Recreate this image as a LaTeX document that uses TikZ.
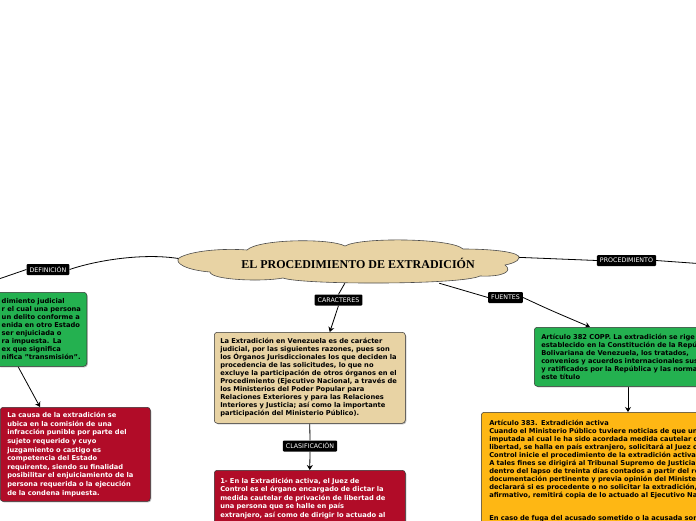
\documentclass[tikz,border=0pt]{standalone}
\usepackage{fontspec}
\setmainfont{DejaVu Sans}
\newfontfamily\titlefont{Liberation Serif}
\usepackage{xcolor}
\usetikzlibrary{arrows.meta, positioning, shadows, backgrounds}

\definecolor{tanfill}{RGB}{232,211,164}
\definecolor{mapgreen}{RGB}{36,177,80}
\definecolor{mapred}{RGB}{177,12,40}
\definecolor{maporange}{RGB}{254,183,20}

\begin{document}
\begin{tikzpicture}[
    x=1pt, y=-1pt,
    box/.style={rectangle, draw=black!80, line width=0.5pt, rounded corners=3pt, align=left, inner xsep=6pt, inner ysep=5pt, font=\fontsize{6.7}{8}\selectfont\bfseries, drop shadow={shadow xshift=1pt, shadow yshift=-1pt, fill=black!45, opacity=0.6}},
    tanbox/.style={box, fill=tanfill},
    greenbox/.style={box, fill=mapgreen},
    redbox/.style={box, fill=mapred, text=white, font=\fontsize{6.7}{8.6}\selectfont\bfseries},
    orangebox/.style={box, fill=maporange},
    tag/.style={rectangle, fill=black, text=white, rounded corners=1pt, inner xsep=3pt, inner ysep=0pt, minimum height=11pt, font=\fontsize{6.3}{7}\selectfont},
    link/.style={line width=0.8pt},
    arrow/.style={link, -{Stealth[length=5pt, width=6pt]}},
]
    \useasboundingbox (0,0) rectangle (696,520);
    \clip (0,0) rectangle (696,520);

    % central topic
    \draw[fill=tanfill, draw=black!70, line width=0.6pt] (179,258)
        .. controls (190,251) and (222,248) .. (247,250)
        .. controls (258,239) and (330,238) .. (345,246)
        .. controls (360,237) and (452,238) .. (463,249)
        .. controls (492,249) and (521,252) .. (519,258)
        .. controls (518,262) and (510,264) .. (505,265)
        .. controls (513,271) and (504,277) .. (480,276)
        .. controls (462,285) and (302,285) .. (283,278)
        .. controls (262,282) and (211,280) .. (210,272)
        .. controls (186,270) and (174,263) .. (179,258) -- cycle;
    \node[minimum width=322pt, minimum height=40pt, inner sep=0pt, font=\titlefont\bfseries\fontsize{12}{13}\selectfont] (root) at (358,263) {EL PROCEDIMIENTO DE EXTRADICIÓN};

    % boxes
    \node[greenbox, text width=80pt, inner xsep=5pt, minimum height=74pt, anchor=north east] (defbox) at (87,292) {dimiento judicial\\r el cual una persona\\un delito conforme a\\enida en otro Estado\\ ser enjuiciada o\\ra impuesta. La\\ex que significa\\nifica "transmisión".};
    \node[redbox, text width=136pt, inner xsep=7pt, minimum height=94pt, anchor=north west] (causabox) at (0,407) {La causa de la extradición se\\ubica en la comisión de una\\infracción punible por parte del\\sujeto requerido y cuyo\\juzgamiento o castigo es\\competencia del Estado\\requirente, siendo su finalidad\\posibilitar el enjuiciamiento de la\\persona requerida o la ejecución\\de la condena impuesta.};
    \node[tanbox, text width=179pt, minimum height=91pt, anchor=north west] (caracbox) at (214,332) {La Extradición en Venezuela es de carácter\\judicial, por las siguientes razones, pues son\\los Órganos Jurisdiccionales los que deciden la\\procedencia de las solicitudes, lo que no\\excluye la participación de otros órganos en el\\Procedimiento (Ejecutivo Nacional, a través de\\los Ministerios del Poder Popular para\\Relaciones Exteriores y para las Relaciones\\Interiores y Justicia; así como la importante\\participación del Ministerio Público).};
    \node[redbox, text width=179pt, minimum height=56pt, anchor=north west] (clasbox) at (214,470) {1- En la Extradición activa, el Juez de\\Control es el órgano encargado de dictar la\\medida cautelar de privación de libertad de\\una persona que se halle en país\\extranjero, así como de dirigir lo actuado al};
    \node[greenbox, text width=220pt, inner xsep=7pt, minimum height=59pt, anchor=north west] (fuentbox) at (534,327) {Artículo 382 COPP. La extradición se rige por lo\\establecido en la Constitución de la República\\Bolivariana de Venezuela, los tratados,\\convenios y acuerdos internacionales suscritos\\y ratificados por la República y las normas de\\este título};
    \node[orangebox, text width=320pt, inner xsep=8pt, inner ysep=8pt, anchor=north west] (artbox) at (481,412) {Artículo 383. Extradición activa\\Cuando el Ministerio Público tuviere noticias de que un imputado o\\imputada al cual le ha sido acordada medida cautelar de privación de\\libertad, se halla en país extranjero, solicitará al Juez o Jueza de\\Control inicie el procedimiento de la extradición activa.\\A tales fines se dirigirá al Tribunal Supremo de Justicia, el cual,\\dentro del lapso de treinta días contados a partir del recibo de la\\documentación pertinente y previa opinión del Ministerio Público,\\declarará si es procedente o no solicitar la extradición, y en caso\\afirmativo, remitirá copia de lo actuado al Ejecutivo Nacional.\\[15pt]En caso de fuga del acusado sometido o la acusada sometida a juicio,};

    % labels on the links
    \node[tag] (defin) at (48,269.5) {DEFINICIÓN};
    \node[tag] (carac) at (338.5,300) {CARACTERES};
    \node[tag] (fuent) at (505.5,297.5) {FUENTES};
    \node[tag] (proced) at (626.5,260.5) {PROCEDIMIENTO};
    \node[tag] (clasif) at (310,446) {CLASIFICACIÓN};
    \coordinate (defout) at (-10,282);
    \coordinate (procout) at (705,264);

    \begin{pgfonlayer}{background}
    \fill[white] (0,0) rectangle (696,520);
    \draw[link] (root.west) .. controls (160,250) and (100,259) .. (defin.east);
    \draw[link] (defin.west) -- (defout);
    \draw[link] (root.-123) -- (carac.north);
    \draw[arrow] (carac.south) -- ([xshift=20pt]caracbox.north);
    \draw[link] (caracbox.south) -- (clasif.north);
    \draw[arrow] (clasif.south) -- (clasbox.north);
    \draw[link] ([xshift=-80pt]root.south east) -- (fuent.west);
    \draw[arrow] (fuent.east) .. controls (550,310) .. ([xshift=56pt]fuentbox.north west);
    \draw[link] (root.2) -- (proced.west);
    \draw[link] (proced.east) -- (procout);
    \draw[arrow] ([xshift=-69pt]defbox.south east) -- ([xshift=40pt]causabox.north west);
    \draw[arrow] ([xshift=94pt]fuentbox.south west) -- ([xshift=147pt]artbox.north west);
    \end{pgfonlayer}
\end{tikzpicture}
\end{document}
